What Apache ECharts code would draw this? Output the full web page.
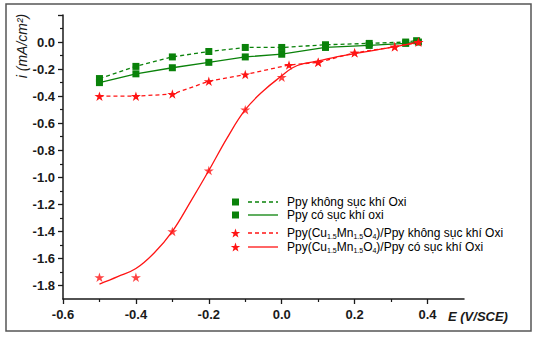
<!DOCTYPE html>
<html>
<head>
<meta charset="utf-8">
<script src="https://cdn.jsdelivr.net/npm/echarts@6/dist/echarts.min.js"></script>
<style>html,body{margin:0;padding:0;background:#fff}#c{width:539px;height:338px}</style>
</head>
<body>
<div id="c"></div>
<script>
// ---- data ----
const xTickLabels = [-0.6, -0.4, -0.2, 0.0, 0.2, 0.4];
const xMinorTicks = [-0.5, -0.3, -0.1, 0.1, 0.3];
const yTickLabels = [-1.8, -1.6, -1.4, -1.2, -1.0, -0.8, -0.6, -0.4, -0.2, 0.0];
const yMajorTicks = [-1.8, -1.6, -1.4, -1.2, -1.0, -0.8, -0.6, -0.4, -0.2, 0.0, 0.2];
const yMinorTicks = [-1.7, -1.5, -1.3, -1.1, -0.9, -0.7, -0.5, -0.3, -0.1, 0.1];

const seriesNames = [
  'Ppy không sục khí Oxi',
  'Ppy có sục khí oxi',
  'Ppy(Cu1.5Mn1.5O4)/Ppy không sục khí Oxi',
  'Ppy(Cu1.5Mn1.5O4)/Ppy có sục khí Oxi'
];

const ppyNoO2_E = [-0.5, -0.4, -0.3, -0.2, -0.1, 0.0, 0.12, 0.24, 0.34, 0.37];
const ppyNoO2_i = [-0.27, -0.18, -0.11, -0.07, -0.04, -0.04, -0.02, -0.01, 0.0, 0.01];

const ppyO2_E = [-0.5, -0.4, -0.3, -0.2, -0.1, 0.0, 0.12, 0.24, 0.34, 0.375];
const ppyO2_i = [-0.30, -0.235, -0.19, -0.15, -0.11, -0.09, -0.04, -0.025, -0.01, 0.0];

const cuNoO2_E = [-0.5, -0.4, -0.3, -0.2, -0.1, 0.02, 0.1, 0.2, 0.31, 0.375];
const cuNoO2_i = [-0.40, -0.40, -0.385, -0.29, -0.24, -0.17, -0.15, -0.08, -0.035, 0.0];

const cuO2_E = [-0.5, -0.4, -0.3, -0.2, -0.1, 0.0, 0.1, 0.2, 0.31, 0.375];
const cuO2_i = [-1.74, -1.74, -1.40, -0.95, -0.50, -0.26, -0.15, -0.08, -0.035, 0.0];

// fitted curve drawn through the Ppy(Cu1.5Mn1.5O4)/Ppy có sục khí Oxi points
const cuO2Fit_E = [-0.5, -0.45, -0.4, -0.35, -0.3, -0.25, -0.2, -0.15, -0.1, -0.05, 0.0, 0.03, 0.06, 0.1, 0.15, 0.2, 0.3, 0.375];
const cuO2Fit_i = [-1.79, -1.735, -1.675, -1.56, -1.40, -1.18, -0.95, -0.71, -0.50, -0.36, -0.25, -0.19, -0.16, -0.14, -0.11, -0.085, -0.04, 0.0];

// ---- helpers ----
const zip = (a, b) => a.map((v, k) => [v, b[k]]);
const GREEN = '#0a820a';
const RED = '#ff1414';
const STAR = 'path://M50,0 L61.2,34.5 L97.6,34.5 L68.2,55.9 L79.4,90.5 L50,69.1 L20.6,90.5 L31.8,55.9 L2.4,34.5 L38.8,34.5 Z';
const DASH = [4, 3];

function starPoints(cx, cy, R, r) {
  const pts = [];
  for (let k = 0; k < 10; k++) {
    const a = -Math.PI / 2 + k * Math.PI / 5;
    const rad = k % 2 === 0 ? R : r;
    pts.push([cx + rad * Math.cos(a), cy + rad * Math.sin(a)]);
  }
  return pts;
}

const chart = echarts.init(document.getElementById('c'), null, {renderer: 'svg'});

const labelFont = {fontFamily: 'Liberation Sans, Arial, sans-serif', fontWeight: 'bold', fontSize: 13, color: '#1a1a1a'};

const legendRows = [
  {y: 202, sym: 'sq', dash: true, text: '{n|Ppy không sục khí Oxi}', color: GREEN},
  {y: 215, sym: 'sq', dash: false, text: '{n|Ppy có sục khí oxi}', color: GREEN},
  {y: 233, sym: 'star', dash: true, text: '{n|Ppy(Cu}{s|1.5}{n|Mn}{s|1.5}{n|O}{s|4}{n|)/Ppy không sục khí Oxi}', color: RED},
  {y: 247, sym: 'star', dash: false, text: '{n|Ppy(Cu}{s|1.5}{n|Mn}{s|1.5}{n|O}{s|4}{n|)/Ppy có sục khí Oxi}', color: RED}
];
const rich = {
  n: {fontFamily: 'Liberation Sans, Arial, sans-serif', fontSize: 12, color: '#1a1a1a', lineHeight: 14},
  s: {fontFamily: 'Liberation Sans, Arial, sans-serif', fontSize: 7, color: '#1a1a1a', lineHeight: 14, verticalAlign: 'bottom', padding: [6, 0, 0, 0]}
};
const legendGraphics = [];
legendRows.forEach(r => {
  if (r.sym === 'sq') {
    legendGraphics.push({type: 'rect', shape: {x: 232, y: r.y - 3.5, width: 7, height: 7}, style: {fill: r.color}});
  } else {
    legendGraphics.push({type: 'polygon', shape: {points: starPoints(235.5, r.y + 0.5, 5, 2)}, style: {fill: r.color}});
  }
  legendGraphics.push({type: 'line', shape: {x1: 248, y1: r.y, x2: 278, y2: r.y}, style: {stroke: r.color, lineWidth: 1.3, lineDash: r.dash ? DASH : null}});
  legendGraphics.push({type: 'text', x: 287, y: r.y, style: {text: r.text, rich: rich, verticalAlign: 'middle', align: 'left'}});
});

const option = {
  animation: false,
  backgroundColor: '#fff',
  grid: {left: 63, top: 15, width: 401, height: 284, containLabel: false},
  xAxis: [{
    type: 'value', min: -0.6, max: 0.5, position: 'bottom',
    axisLine: {show: true, onZero: false, lineStyle: {color: '#1a1a1a', width: 1.5}},
    axisTick: {show: true, inside: false, length: 5, customValues: xTickLabels, lineStyle: {color: '#1a1a1a', width: 1.3}},
    axisLabel: {show: true, margin: 9, customValues: xTickLabels, formatter: v => v.toFixed(1), ...labelFont},
    splitLine: {show: false}
  }, {
    type: 'value', min: -0.6, max: 0.5, position: 'bottom', gridIndex: 0,
    axisLine: {show: false, onZero: false},
    axisTick: {show: true, inside: false, length: 3, customValues: xMinorTicks, lineStyle: {color: '#1a1a1a', width: 1.2}},
    axisLabel: {show: false},
    splitLine: {show: false}
  }],
  yAxis: [{
    type: 'value', min: -1.9, max: 0.2, position: 'left',
    axisLine: {show: true, onZero: false, lineStyle: {color: '#1a1a1a', width: 1.5}},
    axisTick: {show: true, inside: false, length: 5, customValues: yMajorTicks, lineStyle: {color: '#1a1a1a', width: 1.3}},
    axisLabel: {show: true, margin: 8, customValues: yTickLabels, formatter: v => v.toFixed(1), ...labelFont},
    splitLine: {show: false}
  }, {
    type: 'value', min: -1.9, max: 0.2, position: 'left', gridIndex: 0,
    axisLine: {show: false, onZero: false},
    axisTick: {show: true, inside: false, length: 3, customValues: yMinorTicks, lineStyle: {color: '#1a1a1a', width: 1.2}},
    axisLabel: {show: false},
    splitLine: {show: false}
  }],
  series: [
    {name: seriesNames[0], type: 'line', data: zip(ppyNoO2_E, ppyNoO2_i), symbol: 'rect', symbolSize: 7,
      itemStyle: {color: GREEN}, lineStyle: {color: GREEN, width: 1.3, type: DASH}, z: 3},
    {name: seriesNames[1], type: 'line', data: zip(ppyO2_E, ppyO2_i), symbol: 'rect', symbolSize: 7,
      itemStyle: {color: GREEN}, lineStyle: {color: GREEN, width: 1.3}, z: 3},
    {name: seriesNames[2], type: 'line', data: zip(cuNoO2_E, cuNoO2_i), symbol: STAR, symbolSize: 10, symbolKeepAspect: true,
      itemStyle: {color: RED}, lineStyle: {color: RED, width: 1.3, type: DASH}, z: 4},
    {name: seriesNames[3], type: 'scatter', data: zip(cuO2_E, cuO2_i), symbol: STAR, symbolSize: 10, symbolKeepAspect: true,
      itemStyle: {color: RED}, z: 5},
    {name: seriesNames[3] + ' (fit)', type: 'line', data: zip(cuO2Fit_E, cuO2Fit_i), symbol: 'none', smooth: 0.4,
      lineStyle: {color: RED, width: 1.3}, z: 4}
  ],
  graphic: [
    {type: 'rect', shape: {x: 6, y: 4, width: 525, height: 327}, style: {fill: 'none', stroke: '#555', lineWidth: 1.5}, z: -1},
    {type: 'text', x: 22, y: 46, rotation: Math.PI / 2,
      style: {text: 'i (mA/cm²)', font: 'italic 14px "Liberation Sans", Arial, sans-serif', fill: '#1a1a1a', align: 'center', verticalAlign: 'middle'}},
    {type: 'text', x: 448, y: 316,
      style: {text: 'E (V/SCE)', font: 'italic bold 13px "Liberation Sans", Arial, sans-serif', fill: '#1a1a1a', align: 'left', verticalAlign: 'middle'}},
    ...legendGraphics
  ]
};
chart.setOption(option);
</script>
</body>
</html>
